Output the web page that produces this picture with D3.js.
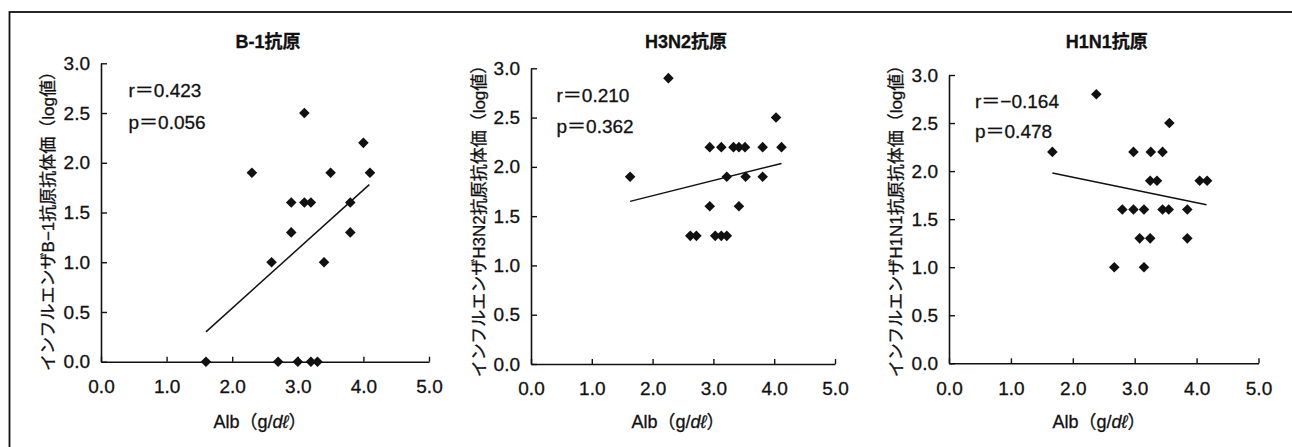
<!DOCTYPE html>
<html>
<head>
<meta charset="utf-8">
<script src="https://cdn.jsdelivr.net/npm/d3@7"></script>
<style>
  body { margin: 0; background: #fff; }
  text { font-family: "Liberation Sans", Arial, "Noto Sans CJK JP", sans-serif; fill: #111; stroke: #111; stroke-width: 0.3px; }
</style>
</head>
<body>
<div id="chart"></div>
<script>
// titles / labels
var titles = ['B-1抗原', 'H3N2抗原', 'H1N1抗原'];
var yLabels = ['インフルエンザB−1抗原抗体価（log値）', 'インフルエンザH3N2抗原抗体価（log値）', 'インフルエンザH1N1抗原抗体価（log値）'];
var rTexts = ['r＝0.423', 'r＝0.210', 'r＝−0.164'];
var pTexts = ['p＝0.056', 'p＝0.362', 'p＝0.478'];
var xTicks = [0, 1, 2, 3, 4, 5];
var yTicks = [0, 0.5, 1, 1.5, 2, 2.5, 3];

// B-1
var albB1 = [1.6, 2.7, 3.0, 3.2, 3.3, 2.3, 2.6, 2.9, 2.9, 3.1, 3.1, 3.2, 3.5, 3.4, 3.8, 3.8, 4.0, 4.1];
var titerB1 = [0, 0, 0, 0, 0, 1.9, 1.0, 1.6, 1.3, 2.5, 1.6, 1.6, 1.9, 1.0, 1.6, 1.3, 2.2, 1.9];
var fitB1 = [[1.6, 0.30], [4.09, 1.78]];

// H3N2
var albH3 = [1.63, 2.26, 2.62, 2.72, 2.94, 2.94, 3.13, 3.03, 3.13, 3.22, 3.22, 3.33, 3.42, 3.52, 3.42, 3.53, 3.81, 3.81, 4.03, 4.12];
var titerH3 = [1.9, 2.9, 1.3, 1.3, 2.2, 1.6, 2.2, 1.3, 1.3, 1.3, 1.9, 2.2, 2.2, 2.2, 1.6, 1.9, 2.2, 1.9, 2.5, 2.2];
var fitH3 = [[1.63, 1.65], [4.12, 2.035]];

// H1N1
var albH1 = [1.67, 2.38, 2.67, 2.80, 2.98, 2.98, 3.15, 3.08, 3.25, 3.15, 3.26, 3.25, 3.36, 3.45, 3.45, 3.55, 3.56, 3.85, 3.85, 4.05, 4.17];
var titerH1 = [2.2, 2.8, 1.0, 1.6, 1.6, 2.2, 1.6, 1.3, 1.3, 1.0, 2.2, 1.9, 1.9, 2.2, 1.6, 1.6, 2.5, 1.6, 1.3, 1.9, 1.9];
var fitH1 = [[1.67, 1.98], [4.16, 1.65]];

var xs = [albB1, albH3, albH1];
var ys = [titerB1, titerH3, titerH1];
var fits = [fitB1, fitH3, fitH1];

// panel geometry (pixels)
var panels = [
  { x0: 101, x1: 429, yBot: 361.7, yTop: 63.3, yLabX: 47, xLabX: 260 },
  { x0: 531, x1: 835, yBot: 364, yTop: 68.3, yLabX: 478, xLabX: 678 },
  { x0: 949, x1: 1258.5, yBot: 363.3, yTop: 75, yLabX: 895, xLabX: 1099 }
];

var width = 1292, height = 447;
var svg = d3.select('#chart').append('svg')
  .attr('width', width)
  .attr('height', height);

// outer frame
svg.append('rect')
  .attr('x', 9.5).attr('y', 12)
  .attr('width', width).attr('height', height)
  .attr('fill', 'none')
  .attr('stroke', '#111')
  .attr('stroke-width', 1.8);

panels.forEach(function (p, i) {
  var x = d3.scaleLinear().domain([0, 5]).range([p.x0, p.x1]);
  var y = d3.scaleLinear().domain([0, 3]).range([p.yBot, p.yTop]);
  var g = svg.append('g');

  // x axis
  var xAxis = g.append('g')
    .attr('transform', 'translate(0,' + p.yBot + ')')
    .call(d3.axisBottom(x).tickValues(xTicks).tickSizeInner(-5).tickSizeOuter(0).tickPadding(18)
      .tickFormat(d3.format('.1f')));
  xAxis.select('.domain').attr('stroke', '#111').attr('stroke-width', 1.6);
  xAxis.selectAll('.tick line').attr('stroke', '#111').attr('stroke-width', 1.4);
  xAxis.selectAll('.tick text').attr('font-size', 19).attr('dy', '0.71em');

  // y axis
  var yAxis = g.append('g')
    .attr('transform', 'translate(' + p.x0 + ',0)')
    .call(d3.axisLeft(y).tickValues(yTicks).tickSizeInner(-6).tickSizeOuter(0).tickPadding(11)
      .tickFormat(d3.format('.1f')));
  yAxis.select('.domain').attr('stroke', '#111').attr('stroke-width', 1.6);
  yAxis.selectAll('.tick line').attr('stroke', '#111').attr('stroke-width', 1.4);
  yAxis.selectAll('.tick text').attr('font-size', 19);
  g.selectAll('.tick text').attr('fill', '#111');

  // title
  g.append('text')
    .attr('x', (p.x0 + p.x1) / 2 + 3)
    .attr('y', 48)
    .attr('text-anchor', 'middle')
    .attr('font-size', 18)
    .attr('font-weight', 'bold')
    .text(titles[i]);

  // y label
  g.append('text')
    .attr('transform', 'translate(' + (p.yLabX + 7) + ',217) rotate(-90)')
    .attr('text-anchor', 'middle')
    .attr('font-size', 17)
    .text(yLabels[i]);

  // x label
  var xl = g.append('text')
    .attr('x', p.xLabX)
    .attr('y', 428)
    .attr('text-anchor', 'middle')
    .attr('font-size', 18);
  xl.append('tspan').text('Alb（g/');
  xl.append('tspan').attr('font-style', 'italic').text('dℓ');
  xl.append('tspan').text('）');

  // r / p
  g.append('text')
    .attr('x', x(0.42)).attr('y', y(2.66))
    .attr('font-size', 19)
    .text(rTexts[i]);
  g.append('text')
    .attr('x', x(0.42)).attr('y', y(2.34))
    .attr('font-size', 19)
    .text(pTexts[i]);

  // regression line
  g.append('line')
    .attr('x1', x(fits[i][0][0])).attr('y1', y(fits[i][0][1]))
    .attr('x2', x(fits[i][1][0])).attr('y2', y(fits[i][1][1]))
    .attr('stroke', '#111')
    .attr('stroke-width', 1.5);

  // points
  var diamond = d3.symbol().type(d3.symbolSquare).size(56);
  g.selectAll('.pt')
    .data(d3.range(xs[i].length))
    .enter()
    .append('path')
    .attr('class', 'pt')
    .attr('d', diamond)
    .attr('transform', function (k) {
      return 'translate(' + x(xs[i][k]) + ',' + y(ys[i][k]) + ') rotate(45)';
    })
    .attr('fill', '#111');
});
</script>
</body>
</html>
